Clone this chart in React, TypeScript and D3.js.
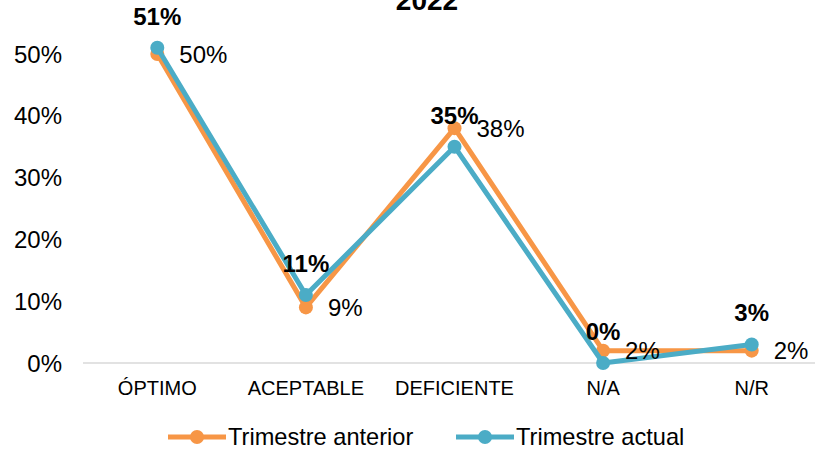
import React from "react";
import * as d3 from "d3";

const categories = ["ÓPTIMO", "ACEPTABLE", "DEFICIENTE", "N/A", "N/R"];
const anterior = [0.5, 0.09, 0.38, 0.02, 0.02];
const actual = [0.51, 0.11, 0.35, 0.0, 0.03];
const yTicks = [0, 0.1, 0.2, 0.3, 0.4, 0.5];
const seriesNames = ["Trimestre anterior", "Trimestre actual"];
const title = "2022";

const ORANGE = "#F79646";
const TEAL = "#4BACC6";
const FONT = "'Liberation Sans', Arial, sans-serif";

export default function App() {
  const W = 815, H = 449;
  const x = d3.scaleBand<string>().domain(categories).range([83, 826]).padding(0);
  const cx = (c: string) => (x(c) as number) + x.bandwidth() / 2;
  const y = d3.scaleLinear().domain([0, 0.5]).range([363, 54]);
  const fmt = d3.format(".0%");
  const line = d3
    .line<number>()
    .x((_, i) => cx(categories[i]))
    .y((d) => y(d));

  return (
    <svg width={W} height={H} style={{ position: "absolute", left: 0, top: 0, fontFamily: FONT }}>
      <rect width={W} height={H} fill="#fff" />
      <text x={427} y={10} textAnchor="middle" fontSize={28} fontWeight="bold" fill="#000">
        {title}
      </text>
      {yTicks.map((t) => (
        <text key={t} x={62} y={y(t)} dy="0.36em" textAnchor="end" fontSize={24} fill="#000">
          {fmt(t)}
        </text>
      ))}
      <line x1={83} x2={826} y1={y(0)} y2={y(0)} stroke="#D9D9D9" strokeWidth={1.5} />
      {categories.map((c) => (
        <text key={c} x={cx(c)} y={395} textAnchor="middle" fontSize={20} fill="#000">
          {c}
        </text>
      ))}
      <path d={line(anterior) || ""} fill="none" stroke={ORANGE} strokeWidth={5} strokeLinejoin="round" />
      {anterior.map((v, i) => (
        <circle key={"a" + i} cx={cx(categories[i])} cy={y(v)} r={7} fill={ORANGE} />
      ))}
      <path d={line(actual) || ""} fill="none" stroke={TEAL} strokeWidth={5} strokeLinejoin="round" />
      {actual.map((v, i) => (
        <circle key={"b" + i} cx={cx(categories[i])} cy={y(v)} r={7} fill={TEAL} />
      ))}
      {anterior.map((v, i) => (
        <text key={"la" + i} x={cx(categories[i]) + 22} y={y(v)} dy="0.36em" fontSize={24} fill="#000">
          {fmt(v)}
        </text>
      ))}
      {actual.map((v, i) => (
        <text key={"lb" + i} x={cx(categories[i])} y={y(v) - 23} textAnchor="middle" fontSize={24} fontWeight="bold" fill="#000">
          {fmt(v)}
        </text>
      ))}
      {/* legend */}
      <g>
        <line x1={168} x2={226} y1={437} y2={437} stroke={ORANGE} strokeWidth={5} />
        <circle cx={197} cy={437} r={7} fill={ORANGE} />
        <text x={228} y={437} dy="0.36em" fontSize={23.6} fill="#000">{seriesNames[0]}</text>
        <line x1={456} x2={514} y1={437} y2={437} stroke={TEAL} strokeWidth={5} />
        <circle cx={485} cy={437} r={7} fill={TEAL} />
        <text x={516} y={437} dy="0.36em" fontSize={23.6} fill="#000">{seriesNames[1]}</text>
      </g>
    </svg>
  );
}
